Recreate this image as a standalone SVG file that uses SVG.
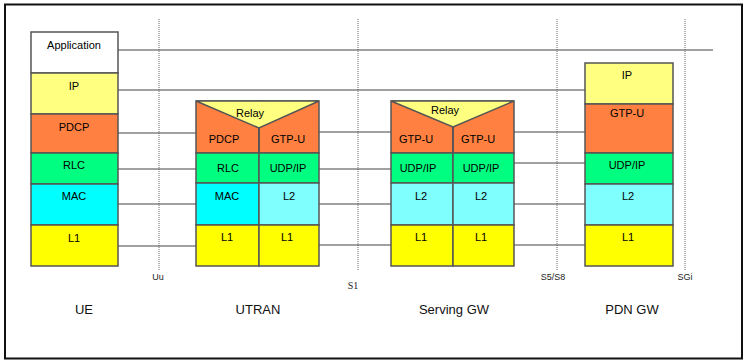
<svg xmlns="http://www.w3.org/2000/svg" width="744" height="360" viewBox="0 0 744 360">
<style>
.box{stroke:#555;stroke-width:1.5}
.t{font-family:"Liberation Sans",Arial,sans-serif;font-size:11px;fill:#000;text-anchor:middle}
.lbl{font-family:"Liberation Sans",Arial,sans-serif;font-size:13px;fill:#111;text-anchor:middle}
.if{font-family:"Liberation Sans",Arial,sans-serif;font-size:9px;fill:#222;text-anchor:middle}
.ln{stroke:#444;stroke-width:1.2;fill:none}
.dot{stroke:#999;stroke-width:1.5;stroke-dasharray:1 1;fill:none}
.wh{fill:#fff}.ip{fill:#ffff80}.or{fill:#ff8040}.gr{fill:#00ff80}.cy{fill:#00ffff}.lc{fill:#80ffff}.ye{fill:#ffff00}
</style>
<rect x="0" y="0" width="744" height="360" fill="#fff"/>
<rect x="5" y="4.5" width="737" height="354" fill="none" stroke="#111" stroke-width="2"/>
<g id="interfaces">
<line class="dot" x1="159" y1="19" x2="159" y2="270"/>
<line class="dot" x1="358" y1="19" x2="358" y2="270"/>
<line class="dot" x1="557" y1="19" x2="557" y2="270"/>
<line class="dot" x1="685" y1="19" x2="685" y2="270"/>
<text class="if" x="158" y="280">Uu</text>
<text x="353" y="289" style="font-family:'Liberation Serif',serif;font-size:10px;fill:#222;text-anchor:middle">S1</text>
<text class="if" x="553" y="280">S5/S8</text>
<text class="if" x="685" y="280">SGi</text>
</g>
<g id="connectors">
<line class="ln" x1="118" y1="50" x2="713" y2="50"/>
<line class="ln" x1="118" y1="90" x2="585" y2="90"/>
<line class="ln" x1="118" y1="133" x2="196" y2="133"/>
<line class="ln" x1="118" y1="169" x2="196" y2="169"/>
<line class="ln" x1="118" y1="204" x2="196" y2="204"/>
<line class="ln" x1="118" y1="246" x2="196" y2="246"/>
<line class="ln" x1="319" y1="132" x2="391" y2="132"/>
<line class="ln" x1="319" y1="169" x2="391" y2="169"/>
<line class="ln" x1="319" y1="204" x2="391" y2="204"/>
<line class="ln" x1="319" y1="245" x2="391" y2="245"/>
<line class="ln" x1="514" y1="132" x2="585" y2="132"/>
<line class="ln" x1="514" y1="163" x2="585" y2="163"/>
<line class="ln" x1="514" y1="204" x2="585" y2="204"/>
<line class="ln" x1="514" y1="245" x2="585" y2="245"/>
</g>
<g id="ue">
<rect class="box wh" x="31" y="32" width="87" height="41"/>
<rect class="box ip" x="31" y="73" width="87" height="41"/>
<rect class="box or" x="31" y="114" width="87" height="39"/>
<rect class="box gr" x="31" y="153" width="87" height="31"/>
<rect class="box cy" x="31" y="184" width="87" height="41"/>
<rect class="box ye" x="31" y="225" width="87" height="41"/>
<text class="t" x="74" y="49">Application</text>
<text class="t" x="74" y="90">IP</text>
<text class="t" x="74" y="131">PDCP</text>
<text class="t" x="74" y="169">RLC</text>
<text class="t" x="74" y="200">MAC</text>
<text class="t" x="74" y="242">L1</text>
<text class="lbl" x="84" y="314">UE</text>
</g>
<g id="utran">
<rect class="box or" x="196" y="101" width="63" height="52"/>
<rect class="box or" x="259" y="101" width="60" height="52"/>
<polygon class="box ip" points="196,101 319,101 259,128"/>
<line class="box" x1="259" y1="128" x2="259" y2="153"/>
<rect class="box gr" x="196" y="153" width="63" height="30"/>
<rect class="box gr" x="259" y="153" width="60" height="30"/>
<rect class="box cy" x="196" y="183" width="63" height="42"/>
<rect class="box lc" x="259" y="183" width="60" height="42"/>
<rect class="box ye" x="196" y="225" width="63" height="41"/>
<rect class="box ye" x="259" y="225" width="60" height="41"/>
<text class="t" x="250" y="117">Relay</text>
<text class="t" x="224" y="143">PDCP</text>
<text class="t" x="288" y="143">GTP-U</text>
<text class="t" x="228" y="172">RLC</text>
<text class="t" x="288" y="172">UDP/IP</text>
<text class="t" x="227" y="200">MAC</text>
<text class="t" x="289" y="200">L2</text>
<text class="t" x="227" y="241">L1</text>
<text class="t" x="287" y="241">L1</text>
<text class="lbl" x="258" y="314">UTRAN</text>
</g>
<g id="serving-gw">
<rect class="box or" x="391" y="101" width="62" height="52"/>
<rect class="box or" x="453" y="101" width="61" height="52"/>
<polygon class="box ip" points="391,101 514,101 453,127"/>
<line class="box" x1="453" y1="127" x2="453" y2="153"/>
<rect class="box gr" x="391" y="153" width="62" height="30"/>
<rect class="box gr" x="453" y="153" width="61" height="30"/>
<rect class="box lc" x="391" y="183" width="62" height="42"/>
<rect class="box lc" x="453" y="183" width="61" height="42"/>
<rect class="box ye" x="391" y="225" width="62" height="41"/>
<rect class="box ye" x="453" y="225" width="61" height="41"/>
<text class="t" x="445" y="114">Relay</text>
<text class="t" x="416" y="143">GTP-U</text>
<text class="t" x="478" y="143">GTP-U</text>
<text class="t" x="418" y="172">UDP/IP</text>
<text class="t" x="481" y="172">UDP/IP</text>
<text class="t" x="421" y="200">L2</text>
<text class="t" x="481" y="200">L2</text>
<text class="t" x="421" y="241">L1</text>
<text class="t" x="481" y="241">L1</text>
<text class="lbl" x="454" y="314">Serving GW</text>
</g>
<g id="pdn-gw">
<rect class="box ip" x="585" y="63" width="88" height="41"/>
<rect class="box or" x="585" y="104" width="88" height="49"/>
<rect class="box gr" x="585" y="153" width="88" height="31"/>
<rect class="box lc" x="585" y="184" width="88" height="41"/>
<rect class="box ye" x="585" y="225" width="88" height="41"/>
<text class="t" x="627" y="79">IP</text>
<text class="t" x="627" y="117">GTP-U</text>
<text class="t" x="627" y="169">UDP/IP</text>
<text class="t" x="628" y="200">L2</text>
<text class="t" x="628" y="241">L1</text>
<text class="lbl" x="632" y="314">PDN GW</text>
</g>
</svg>
